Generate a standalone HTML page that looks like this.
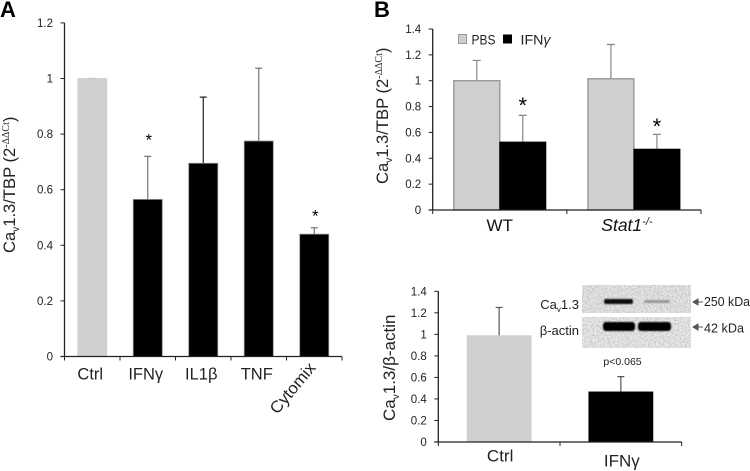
<!DOCTYPE html>
<html>
<head>
<meta charset="utf-8">
<style>
html,body{margin:0;padding:0;background:#fff;}
svg{display:block;font-family:"Liberation Sans","DejaVu Sans",sans-serif;fill:#222;}
</style>
</head>
<body>
<svg id="fig" width="750" height="471" viewBox="0 0 750 471">
<defs>
<filter id="noise" x="0" y="0" width="100%" height="100%"><feTurbulence type="fractalNoise" baseFrequency="0.6" numOctaves="2" seed="4"/><feColorMatrix type="matrix" values="0 0 0 0 0.45  0 0 0 0 0.45  0 0 0 0 0.45  1.8 0 0 0 -0.65"/></filter>
<filter id="soft"><feGaussianBlur stdDeviation="0.7"/></filter>
</defs>

<text x="0" y="17" font-size="22" font-weight="bold" fill="#000">A</text>
<text x="374" y="17" font-size="22" font-weight="bold" fill="#000">B</text>

<text transform="translate(15,253) rotate(-90)" font-size="16.6">Ca<tspan font-size="10" dy="4">v</tspan><tspan dy="-4">1.3/TBP (2</tspan><tspan font-size="10" dy="-6" font-family="Liberation Serif">-ΔΔCt</tspan><tspan dy="6">)</tspan></text>
<text transform="translate(388,184) rotate(-90)" font-size="16.6">Ca<tspan font-size="10" dy="4">v</tspan><tspan dy="-4">1.3/TBP (2</tspan><tspan font-size="10" dy="-6" font-family="Liberation Serif">-ΔΔCt</tspan><tspan dy="6">)</tspan></text>
<text transform="translate(395,421) rotate(-90)" font-size="17">Ca<tspan font-size="10" dy="4">v</tspan><tspan dy="-4">1.3/β-actin</tspan></text>

<g id="chartA"></g>
<g id="chartB"></g>
<g id="chartC"></g>

<g>
  <rect x="458.5" y="34.5" width="8" height="9" fill="#cfcfcf" stroke="#999"/>
  <text x="471.5" y="44.5" font-size="14" textLength="24" lengthAdjust="spacingAndGlyphs">PBS</text>
  <rect x="503" y="34.5" width="9" height="9" fill="#000"/>
  <text x="520.5" y="44.5" font-size="14" textLength="30" lengthAdjust="spacingAndGlyphs">IFN<tspan font-style="italic">γ</tspan></text>
</g>

<g>
  <rect x="582" y="285" width="109" height="28" fill="#e8e8e8"/>
  <rect x="582" y="285" width="109" height="28" filter="url(#noise)"/>
  <rect x="582" y="317" width="109" height="31" fill="#ececec"/>
  <rect x="582" y="317" width="109" height="31" filter="url(#noise)"/>
  <g filter="url(#soft)">
    <rect x="604" y="299" width="29" height="5" rx="2" fill="#111"/>
    <rect x="644" y="300" width="26" height="3" rx="1.5" fill="#999"/>
    <rect x="603" y="322" width="32" height="9" rx="3" fill="#000"/>
    <rect x="638" y="322" width="33" height="9" rx="3" fill="#000"/>
  </g>
  <text x="579" y="309" font-size="13" text-anchor="end">Ca<tspan font-size="8" dy="3">v</tspan><tspan dy="-3">1.3</tspan></text>
  <text x="579" y="335" font-size="13" text-anchor="end">β-actin</text>
  <path d="M693 302H703M693 302l5-3v6z" stroke="#555" fill="#555"/>
  <path d="M693 327H703M693 327l5-3v6z" stroke="#555" fill="#555"/>
  <text x="704" y="306" font-size="13" textLength="46" lengthAdjust="spacingAndGlyphs">250 kDa</text>
  <text x="704" y="332.5" font-size="13" textLength="40" lengthAdjust="spacingAndGlyphs">42 kDa</text>
  <text x="622.5" y="365" font-size="10.5" text-anchor="middle">p&lt;0.065</text>
</g>

<script>
var NS = 'http://www.w3.org/2000/svg';

/* Panel A */
var aCategories = ['Ctrl', 'IFNγ', 'IL1β', 'TNF', 'Cytomix'];
var aValues = [1, 0.565, 0.695, 0.775, 0.44];
var aErrorTops = [1, 0.72, 0.933, 1.037, 0.463];
var aStarLevels = [null, 0.786, null, null, 0.513];
var aTicks = ['0', '0.2', '0.4', '0.6', '0.8', '1', '1.2'];

/* Panel B */
var bCategories = ['WT', 'Stat1'];
var bPbsValues = [1, 1.015];
var bPbsErrorTops = [1.157, 1.28];
var bIfnValues = [0.525, 0.47];
var bIfnErrorTops = [0.732, 0.585];
var bStarLevels = [0.826, 0.663];
var bTicks = ['0', '0.2', '0.4', '0.6', '0.8', '1', '1.2', '1.4'];

/* Panel C */
var cCategories = ['Ctrl', 'IFNγ'];
var cValues = [0.988, 0.465];
var cErrorTops = [1.25, 0.607];
var cTicks = ['0', '0.2', '0.4', '0.6', '0.8', '1', '1.2', '1.4'];

function make(parent, tag, attrs, txt) {
  var el = document.createElementNS(NS, tag);
  for (var k in attrs) el.setAttribute(k, attrs[k]);
  if (txt !== undefined) el.textContent = txt;
  parent.appendChild(el);
  return el;
}
function scale(d0, d1, r0, r1) {
  return function (v) { return r0 + (v - d0) / (d1 - d0) * (r1 - r0); };
}

function axes(g, x0, x1, y, n, ticks, prefix) {
  var yAxis = make(g, 'line', {x1: x0, x2: x0, y1: y(parseFloat(ticks[ticks.length - 1])), y2: y(0), stroke: '#222', 'stroke-width': 1.3});
  
  
  var xAxis = make(g, 'line', {x1: x0 - 4, x2: x1, y1: y(0), y2: y(0), stroke: '#222', 'stroke-width': 1.3});
  
  
  ticks.forEach(function (t) {
    var v = parseFloat(t);
    var tm = make(g, 'line', {x1: x0 - 4, x2: x0, y1: y(v), y2: y(v), stroke: '#222', 'stroke-width': 1});
    
    
    var lb = make(g, 'text', {x: x0 - 11.5, y: y(v) + 4, 'font-size': 11.5, 'text-anchor': 'end'}, t);
    
    
  });
  for (var i = 0; i <= n; i++) {
    var px = x0 + (x1 - x0) * i / n;
    var xm = make(g, 'line', {x1: px, x2: px, y1: y(0), y2: y(0) + 4, stroke: '#222', 'stroke-width': 1});
    
    
  }
}

function bar(g, left, width, value, errTop, y, fill, stroke, sw, errColor, capW, name) {
  var cx = left + width / 2;
  var eb = make(g, 'path', {d: 'M' + cx + ' ' + y(value) + 'V' + y(errTop) + 'M' + (cx - capW / 2) + ' ' + y(errTop) + 'H' + (cx + capW / 2), stroke: errColor, 'stroke-width': 1.2, fill: 'none'});
  
  
  var r = make(g, 'rect', {x: left, y: y(value), width: width, height: y(0) - y(value), fill: fill, stroke: stroke, 'stroke-width': sw});
  
  
}

function star(g, x, yPos, size) {
  var s = make(g, 'text', {x: x, y: yPos + size * 0.45, 'font-size': size, 'text-anchor': 'middle', fill: '#000'}, '*');
  
  
}

/* Draw panel A */
(function () {
  var g = document.getElementById('chartA');
  var x0 = 64.5, x1 = 342, barW = 29;
  var y = scale(0, 1.2, 356.5, 22.9);
  var step = (x1 - x0) / aCategories.length;
  aCategories.forEach(function (c, i) {
    var cx = x0 + step * (i + 0.5);
    bar(g, cx - barW / 2, barW, aValues[i], aErrorTops[i], y, i === 0 ? '#cfcfcf' : '#000', i === 0 ? '#cfcfcf' : '#888', 0.8, i === 2 ? '#222' : '#777', 7, 'bar-' + c.toLowerCase());
    if (aStarLevels[i] !== null) star(g, cx + 1, y(aStarLevels[i]), 17);
    var lb;
    if (i === 4) {
      lb = make(g, 'text', {transform: 'translate(' + (cx - 37) + ',415) rotate(-50)', 'font-size': 16.5, textLength: 61, lengthAdjust: 'spacingAndGlyphs'}, c);
    } else {
      lb = make(g, 'text', {x: cx - 2, y: 379.5, 'font-size': 16.5, 'text-anchor': 'middle'}, c);
    }
    
    
  });
  axes(g, x0, x1, y, aCategories.length, aTicks, 'panel-a');
})();

/* Draw panel B */
(function () {
  var g = document.getElementById('chartB');
  var x0 = 432.7, x1 = 701, barW = 46;
  var y = scale(0, 1.4, 210, 29);
  var step = (x1 - x0) / bCategories.length;
  bCategories.forEach(function (c, i) {
    var cx = x0 + step * (i + 0.5);
    bar(g, cx - barW, barW, bPbsValues[i], bPbsErrorTops[i], y, '#cfcfcf', '#999', 1.4, '#888', 8, 'bar-pbs-' + c.toLowerCase());
    bar(g, cx, barW, bIfnValues[i], bIfnErrorTops[i], y, '#000', '#000', 1, '#888', 8, 'bar-ifn-' + c.toLowerCase());
    star(g, cx + barW / 2, y(bStarLevels[i]), 22);
    var lb = make(g, 'text', {x: cx + (i === 0 ? 0 : -7), y: 231, 'font-size': i === 0 ? 17 : 17.5, 'text-anchor': 'middle', fill: '#111'});
    
    
    var main = make(lb, 'tspan', {'font-style': i === 1 ? 'italic' : 'normal'}, c);
    
    
    if (i === 1) {
      var sup = make(lb, 'tspan', {'font-style': 'italic', 'font-size': 11, dy: -6}, '-/-');
      
      
    }
  });
  axes(g, x0, x1, y, bCategories.length, bTicks, 'panel-b');
})();

/* Draw panel C */
(function () {
  var g = document.getElementById('chartC');
  var x0 = 438.3, x1 = 681.7, barW = 64;
  var y = scale(0, 1.4, 442, 291.3);
  var step = (x1 - x0) / cCategories.length;
  cCategories.forEach(function (c, i) {
    var cx = x0 + step * (i + 0.5);
    bar(g, cx - barW / 2, barW, cValues[i], cErrorTops[i], y, i === 0 ? '#cfcfcf' : '#000', i === 0 ? '#cfcfcf' : '#000', 0.8, '#555', 7, 'bar-western-' + c.toLowerCase());
    var lb = make(g, 'text', {x: cx + 1, y: i === 0 ? 461.5 : 466.5, 'font-size': 17, 'text-anchor': 'middle'}, c);
    
    
  });
  axes(g, x0, x1, y, cCategories.length, cTicks, 'panel-c');
})();
</script>
</svg>
</body>
</html>
